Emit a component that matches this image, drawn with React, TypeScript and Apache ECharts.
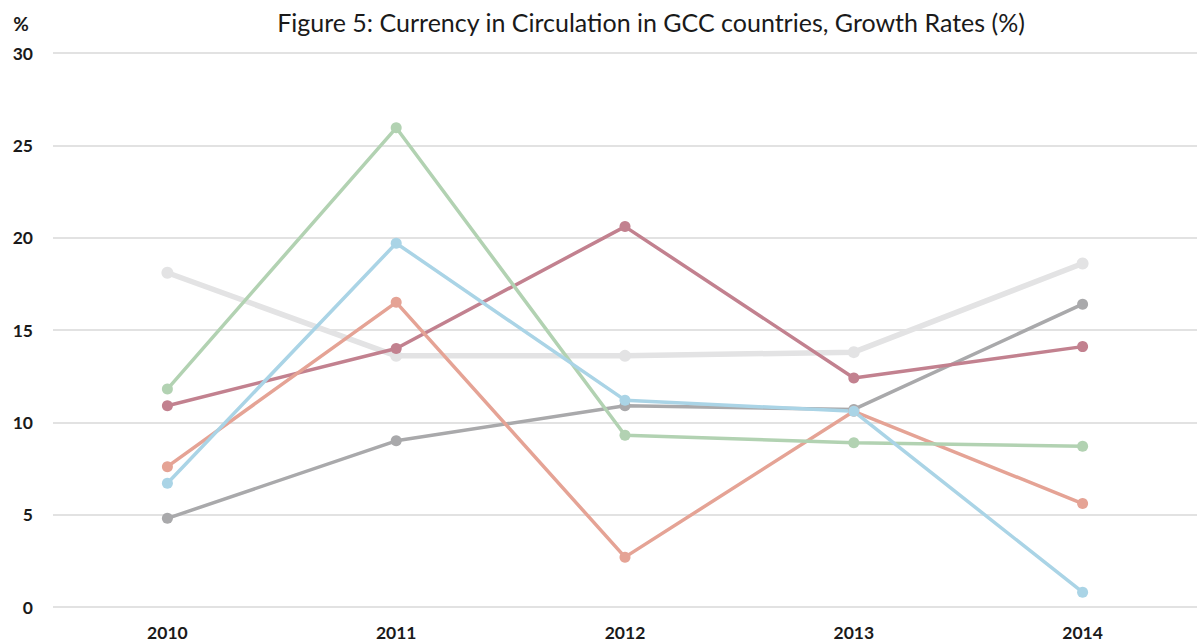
import React, { useEffect, useRef } from "react";
import * as echarts from "echarts";

const years = ["2010", "2011", "2012", "2013", "2014"];
const yTicks = [0, 5, 10, 15, 20, 25, 30];
const lightGray = [18.1, 13.6, 13.6, 13.8, 18.6];
const darkGray = [4.8, 9.0, 10.9, 10.7, 16.4];
const mauve = [10.9, 14.0, 20.6, 12.4, 14.1];
const salmon = [7.6, 16.5, 2.7, 10.6, 5.6];
const green = [11.8, 25.95, 9.3, 8.9, 8.7];
const blue = [6.7, 19.7, 11.2, 10.6, 0.8];

const seriesDefs = [
  { name: "S6", data: lightGray, color: "#e3e3e4", width: 5.5, size: 12 },
  { name: "S5", data: darkGray, color: "#a9a9ab", width: 3.5, size: 11 },
  { name: "S4", data: mauve, color: "#c2818f", width: 3.5, size: 11 },
  { name: "S3", data: salmon, color: "#e5a395", width: 3.5, size: 11 },
  { name: "S1", data: green, color: "#b2d2b2", width: 3.5, size: 11 },
  { name: "S2", data: blue, color: "#aad4e6", width: 3.5, size: 11 },
];

const FONT = "Lato, 'Open Sans', 'Liberation Sans', sans-serif";

export default function App() {
  const ref = useRef<HTMLDivElement>(null);
  useEffect(() => {
    document.body.style.margin = "0";
    const chart = echarts.init(ref.current!, null, { renderer: "svg" });
    chart.setOption({
      animation: false,
      backgroundColor: "#ffffff",
      textStyle: { fontFamily: FONT },
      graphic: [
        {
          type: "text",
          x: 651,
          y: 22,
          style: {
            text: "Figure 5: Currency in Circulation in GCC countries, Growth Rates (%)",
            fontFamily: FONT,
            fontSize: 25,
            fill: "#1a1a1a",
            textAlign: "center",
            textVerticalAlign: "middle",
          },
        },
        {
          type: "text",
          x: 21,
          y: 23,
          style: {
            text: "%",
            fontFamily: FONT,
            fontSize: 19,
            fontWeight: "bold",
            fill: "#1a1a1a",
            textAlign: "center",
            textVerticalAlign: "middle",
          },
        },
      ],
      grid: { left: 53, right: -6, top: 53, bottom: 37, containLabel: false },
      xAxis: {
        type: "category",
        data: years,
        boundaryGap: true,
        axisLine: { show: false },
        axisTick: { show: false },
        axisLabel: {
          color: "#1a1a1a",
          fontWeight: "bold",
          fontSize: 17.5,
          fontFamily: FONT,
          margin: 16,
        },
      },
      yAxis: {
        type: "value",
        min: yTicks[0],
        max: yTicks[yTicks.length - 1],
        interval: 5,
        axisLine: { show: false },
        axisTick: { show: false },
        splitLine: { lineStyle: { color: "#d9d9d9", width: 1.5 } },
        axisLabel: {
          color: "#1a1a1a",
          fontWeight: "bold",
          fontSize: 17.5,
          fontFamily: FONT,
          margin: 20,
        },
      },
      series: seriesDefs.map((s) => ({
        name: s.name,
        type: "line",
        data: s.data,
        symbol: "circle",
        symbolSize: s.size,
        showSymbol: true,
        lineStyle: { color: s.color, width: s.width },
        itemStyle: { color: s.color },
        emphasis: { disabled: true },
      })),
    });
    return () => chart.dispose();
  }, []);
  return <div ref={ref} style={{ width: 1197, height: 644 }} />;
}
